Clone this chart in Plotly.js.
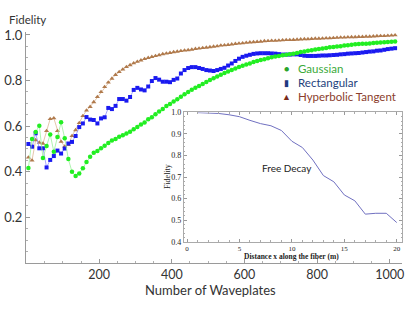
<!DOCTYPE html>
<html>
<head>
<meta charset="utf-8">
<script src="https://cdn.plot.ly/plotly-3.0.1.min.js"></script>
<style>html,body{margin:0;padding:0;background:#fff;}#chart{width:415px;height:321px;}</style>
</head>
<body>
<div id="chart"></div>
<script>
// ---- data ----
const waveplates = [5,15,25,35,45,55,65,75,85,95,105,115,125,135,145,155,165,175,185,195,
205,215,225,235,245,255,265,275,285,295,305,315,325,335,345,355,365,375,385,395,
405,415,425,435,445,455,465,475,485,495,505,515,525,535,545,555,565,575,585,595,
605,615,625,635,645,655,665,675,685,695,705,715,725,735,745,755,765,775,785,795,
805,815,825,835,845,855,865,875,885,895,905,915,925,935,945,955,965,975,985,995,1005,1015];

const gaussian = [0.417,0.544,0.575,0.602,0.461,0.513,0.564,0.488,0.553,0.617,
0.547,0.456,0.400,0.382,0.393,0.415,0.443,0.466,0.484,0.491,
0.503,0.514,0.526,0.537,0.544,0.554,0.560,0.568,0.576,0.586,
0.596,0.607,0.616,0.630,0.639,0.652,0.664,0.675,0.689,0.697,
0.708,0.718,0.729,0.740,0.750,0.760,0.768,0.776,0.785,0.794,
0.803,0.810,0.818,0.826,0.833,0.840,0.846,0.853,0.859,0.865,
0.870,0.875,0.881,0.886,0.890,0.894,0.898,0.902,0.906,0.908,
0.911,0.913,0.915,0.918,0.921,0.925,0.928,0.931,0.933,0.936,
0.938,0.941,0.943,0.946,0.947,0.949,0.951,0.954,0.955,0.957,
0.959,0.960,0.961,0.962,0.963,0.965,0.966,0.967,0.968,0.969,
0.970,0.971];

const rectangular = [0.522,0.510,0.569,0.503,0.503,0.419,0.452,0.469,0.493,0.480,
0.502,0.524,0.531,0.557,0.596,0.612,0.640,0.629,0.627,0.612,
0.634,0.639,0.680,0.675,0.689,0.719,0.719,0.712,0.728,0.759,
0.768,0.761,0.757,0.774,0.798,0.811,0.804,0.795,0.795,0.793,
0.803,0.809,0.831,0.846,0.855,0.859,0.859,0.855,0.851,0.846,
0.844,0.842,0.846,0.851,0.856,0.866,0.875,0.886,0.896,0.904,
0.909,0.913,0.917,0.919,0.920,0.920,0.920,0.919,0.918,0.916,
0.914,0.914,0.914,0.915,0.915,0.912,0.909,0.908,0.908,0.908,
0.909,0.910,0.910,0.911,0.912,0.913,0.915,0.916,0.918,0.919,
0.920,0.921,0.923,0.925,0.927,0.928,0.931,0.932,0.935,0.938,
0.940,0.942];

const hyperbolic = [0.463,0.450,0.539,0.528,0.524,0.579,0.632,0.635,0.579,0.532,
0.511,0.518,0.557,0.583,0.614,0.645,0.669,0.685,0.706,0.728,
0.750,0.772,0.792,0.809,0.825,0.838,0.849,0.860,0.868,0.876,
0.883,0.889,0.895,0.900,0.904,0.908,0.912,0.916,0.919,0.922,
0.925,0.927,0.930,0.932,0.934,0.936,0.939,0.941,0.943,0.945,
0.947,0.949,0.951,0.954,0.955,0.957,0.959,0.961,0.963,0.964,
0.966,0.968,0.969,0.970,0.971,0.973,0.974,0.975,0.975,0.976,
0.977,0.978,0.978,0.979,0.980,0.981,0.982,0.982,0.983,0.984,
0.984,0.985,0.986,0.986,0.987,0.988,0.989,0.989,0.990,0.991,
0.991,0.992,0.992,0.993,0.993,0.994,0.995,0.996,0.996,0.997,
0.998,0.999];

const distance = [1,2,3,4,5,6,7,8,9,10,11,12,13,14,15,16,17,18,19,20];
const freeDecay = [0.999,0.998,0.995,0.989,0.980,0.963,0.948,0.938,0.916,0.866,
0.837,0.779,0.707,0.678,0.617,0.590,0.528,0.532,0.532,0.489];

const seriesNames = ['Gaussian','Rectangular','Hyperbolic Tangent'];
const mainTicksX = [200,400,600,800,1000];
const mainTicksY = [0.2,0.4,0.6,0.8,1.0];
const insetTicksX = [0,5,10,15,20];
const insetTicksY = [0.4,0.5,0.6,0.7,0.8,0.9,1.0];

// ---- traces ----
const traces = [
  {x: waveplates, y: hyperbolic, name: seriesNames[2], mode: 'lines+markers',
   line: {color: '#dcb896', width: 0.8},
   marker: {symbol: 'triangle-up', size: 4.5, color: '#b07a4c'}, xaxis: 'x', yaxis: 'y'},
  {x: waveplates, y: rectangular, name: seriesNames[1], mode: 'lines+markers',
   line: {color: '#9090ff', width: 0.8},
   marker: {symbol: 'square', size: 4, color: '#1a1af0'}, xaxis: 'x', yaxis: 'y'},
  {x: waveplates, y: gaussian, name: seriesNames[0], mode: 'lines+markers',
   line: {color: '#9cf09c', width: 0.8},
   marker: {symbol: 'circle', size: 4.5, color: '#22ee22'}, xaxis: 'x', yaxis: 'y'},
  {x: distance, y: freeDecay, name: 'Free Decay', mode: 'lines',
   line: {color: '#7070c0', width: 1}, xaxis: 'x2', yaxis: 'y2'}
];

const sans = 'Lato, "Open Sans", sans-serif';
const serif = '"Liberation Serif", "DejaVu Serif", serif';

function note(text, x, y, font, extra) {
  return Object.assign({text: text, xref: 'paper', yref: 'paper', x: x, y: y,
    xanchor: 'center', yanchor: 'middle', showarrow: false, font: font}, extra || {});
}

const layout = {
  width: 415, height: 321,
  margin: {l: 26, r: 13, t: 32, b: 58},
  paper_bgcolor: '#fff', plot_bgcolor: '#fff',
  showlegend: false,
  font: {family: sans, color: '#333'},
  xaxis: {
    range: [-1.65, 1034], showgrid: false, zeroline: false,
    showline: true, linecolor: '#9a9a9a', linewidth: 1,
    tickvals: mainTicksX, ticks: 'inside', ticklen: 4, tickcolor: '#9a9a9a',
    minor: {dtick: 50, ticks: 'inside', ticklen: 2, tickcolor: '#b0b0b0'},
    tickfont: {family: sans, size: 12.5, color: '#333'}
  },
  yaxis: {
    range: [0, 1.013], showgrid: false, zeroline: false,
    showline: true, linecolor: '#9a9a9a', linewidth: 1,
    tickvals: mainTicksY, tickformat: '.1f', ticks: 'inside', ticklen: 4, tickcolor: '#9a9a9a',
    minor: {dtick: 0.05, ticks: 'inside', ticklen: 2, tickcolor: '#b0b0b0'},
    tickfont: {family: sans, size: 13, color: '#333'}
  },
  xaxis2: {
    domain: [0.420, 1.0], anchor: 'y2', range: [-0.3, 20.5],
    showgrid: false, zeroline: false, showline: true, mirror: 'allticks',
    linecolor: '#aaaaaa', linewidth: 1,
    tickvals: insetTicksX, ticks: 'inside', ticklen: 3, tickcolor: '#999',
    minor: {dtick: 1, ticks: 'inside', ticklen: 1.5, tickcolor: '#aaa'},
    tickfont: {family: serif, size: 7, color: '#222'}
  },
  yaxis2: {
    domain: [0.092, 0.652], anchor: 'x2', range: [0.4, 1.0],
    showgrid: false, zeroline: false, showline: true, mirror: 'allticks',
    linecolor: '#aaaaaa', linewidth: 1,
    tickvals: insetTicksY, tickformat: '.1f', ticks: 'inside', ticklen: 3, tickcolor: '#999',
    minor: {dtick: 0.02, ticks: 'inside', ticklen: 1.5, tickcolor: '#aaa'},
    tickfont: {family: serif, size: 8, color: '#222'}
  },
  annotations: [
    note('Fidelity', 0.005, 1.052, {family: sans, size: 11.5, color: '#333'}),
    note('Number of Waveplates', 0.492, -0.119, {family: sans, size: 13, color: '#333'}),
    note('●', 0.694, 0.840, {size: 9, color: '#2aa52a'}),
    note(seriesNames[0], 0.718, 0.840, {family: sans, size: 11.5, color: '#3aaa3a'}, {xanchor: 'left'}),
    note('▮', 0.694, 0.7805, {size: 9, color: '#1f3a80'}),
    note(seriesNames[1], 0.718, 0.7805, {family: sans, size: 11.5, color: '#243f7c'}, {xanchor: 'left'}),
    note('▲', 0.694, 0.720, {size: 9, color: '#7a2a1a'}),
    note(seriesNames[2], 0.718, 0.720, {family: sans, size: 11.5, color: '#8b3d2c'}, {xanchor: 'left'}),
    {text: 'Free Decay', xref: 'x2', yref: 'y2', x: 9.5, y: 0.742, xanchor: 'center', yanchor: 'middle',
     showarrow: false, font: {family: sans, size: 10, color: '#222'}},
    note('Fidelity', 0.375, 0.372, {family: serif, size: 8, color: '#222'}, {textangle: -90}),
    note('<b>Distance x along the fiber (m)</b>', 0.707, 0.026, {family: serif, size: 7.5, color: '#222'})
  ]
};

Plotly.newPlot('chart', traces, layout, {displayModeBar: false, staticPlot: true});
</script>
</body>
</html>
